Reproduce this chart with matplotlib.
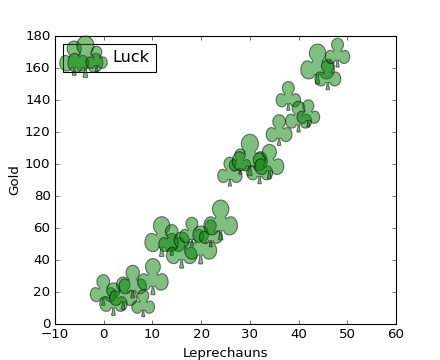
import matplotlib
matplotlib.use("Agg")
import matplotlib.pyplot as plt

x = [-0.1, 2.0, 4.0, 5.95, 8.1, 10.1, 11.9, 13.96, 16.0, 18.1, 19.9, 21.97, 24.0,
     25.9, 28.0, 30.0, 32.0, 34.0, 36.0, 37.9, 40.0, 42.0, 43.9, 46.0, 48.0]
y = [21.2, 15.5, 19.2, 26.5, 13.0, 29.6, 54.6, 52.5, 46.2, 57.7, 49.4, 56.7, 65.0,
     95.2, 101.5, 105.6, 97.3, 101.5, 121.2, 142.5, 129.6, 131.7, 162.5, 156.0, 169.6]
sizes = [770, 860, 860, 860, 590, 1060, 1290, 770, 1060, 680, 1170, 590, 1290,
         680, 520, 1400, 770, 960, 770, 680, 770, 590, 1290, 770, 680]

plt.style.use("classic")
fig = plt.figure(figsize=(5.5, 4.5), dpi=80)

plt.scatter(x, y, s=sizes, c="g", alpha=0.5, marker=r"$\clubsuit$",
            edgecolors="k", label="Luck")
plt.xlabel("Leprechauns")
plt.ylabel("Gold", labelpad=3.2)
plt.legend(loc=2, handletextpad=0.675)
plt.xlim(-10, 60)
plt.ylim(0, 180)

plt.savefig("out.png", dpi=80)
